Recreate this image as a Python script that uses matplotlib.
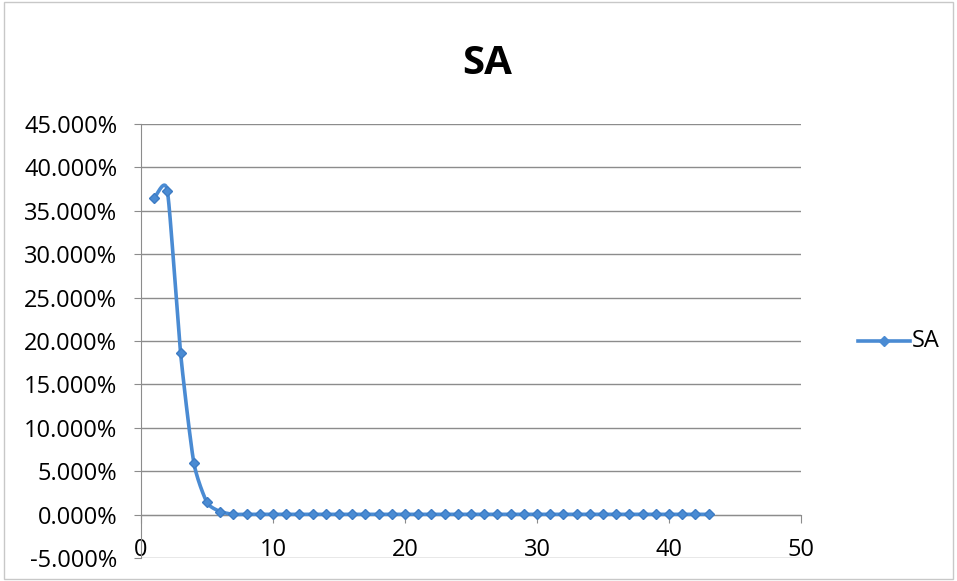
import matplotlib.pyplot as plt
import numpy as np
from matplotlib.ticker import FuncFormatter

# SA share per step
steps = list(range(1, 44))
sa = [0.365, 0.373, 0.186, 0.060, 0.014, 0.0035] + [0.0003] * 37

yticks = [-0.05, 0.0, 0.05, 0.10, 0.15, 0.20, 0.25, 0.30, 0.35, 0.40, 0.45]
xticks = [0, 10, 20, 30, 40, 50]

line_c = '#4a8bd3'
grid_c = '#8c8c8c'

plt.rcParams['font.family'] = ['Open Sans', 'DejaVu Sans']


def smooth(x, y, n=20, k=0.6):
    # Hermite curve through the points with damped tangents (Excel-like smoothing)
    x = np.asarray(x, float)
    y = np.asarray(y, float)
    px = np.concatenate([[2 * x[0] - x[1]], x, [2 * x[-1] - x[-2]]])
    py = np.concatenate([[2 * y[0] - y[1]], y, [2 * y[-1] - y[-2]]])
    xs, ys = [], []
    t = np.linspace(0, 1, n, endpoint=False)
    h00 = 2 * t ** 3 - 3 * t ** 2 + 1
    h10 = t ** 3 - 2 * t ** 2 + t
    h01 = -2 * t ** 3 + 3 * t ** 2
    h11 = t ** 3 - t ** 2
    for i in range(1, len(px) - 2):
        for p, out in ((px, xs), (py, ys)):
            m1 = k * (p[i + 1] - p[i - 1]) / 2
            m2 = k * (p[i + 2] - p[i]) / 2
            out.extend(h00 * p[i] + h10 * m1 + h01 * p[i + 1] + h11 * m2)
    xs.append(x[-1])
    ys.append(y[-1])
    return xs, ys


fig = plt.figure(figsize=(9.57, 5.81), dpi=100)
fig.patches.append(plt.Rectangle((0.004, 0.004), 0.992, 0.992, transform=fig.transFigure,
                                 fill=False, edgecolor='#c8c8c8', linewidth=1))
ax = fig.add_axes([0.1473, 0.0396, 0.6897, 0.747])

sx, sy = smooth(steps, sa)
ax.plot(sx, sy, color=line_c, linewidth=2.6, zorder=3)
ax.plot(steps, sa, linestyle='none', marker='D', markersize=5.5, color=line_c,
        markeredgecolor='#3d7cc4', zorder=4)

ax.set_xlim(0, 50)
ax.set_ylim(-0.05, 0.45)
ax.set_yticks(yticks)
ax.set_xticks(xticks)
ax.yaxis.set_major_formatter(FuncFormatter(lambda v, p: '%.3f%%' % (v * 100)))
for v in yticks[1:]:
    ax.axhline(v, color=grid_c, linewidth=1, zorder=1)

for s in ['top', 'right']:
    ax.spines[s].set_visible(False)
ax.spines['bottom'].set_position(('data', 0))
ax.spines['bottom'].set_color(grid_c)
ax.spines['left'].set_color(grid_c)
ax.axhline(-0.05, color=grid_c, linewidth=1, zorder=1)
ax.tick_params(axis='y', length=5, direction='out', labelsize=17, pad=12,
               colors=grid_c, labelcolor='black')
ax.tick_params(axis='x', length=6, direction='out', labelsize=17, pad=11,
               colors=grid_c, labelcolor='black')
for lab in ax.get_xticklabels():
    lab.set_verticalalignment('top')

fig.text(0.509, 0.891, 'SA', ha='center', va='center', fontsize=29, fontweight='bold')

# legend
fig.lines.append(plt.Line2D([0.897, 0.951], [0.413, 0.413], transform=fig.transFigure,
                            color=line_c, linewidth=2.6, zorder=3))
fig.lines.append(plt.Line2D([0.924], [0.413], transform=fig.transFigure,
                            color=line_c, marker='D', markersize=5.5))
fig.text(0.953, 0.413, 'SA', ha='left', va='center', fontsize=17)

fig.savefig('out.png', dpi=100)
